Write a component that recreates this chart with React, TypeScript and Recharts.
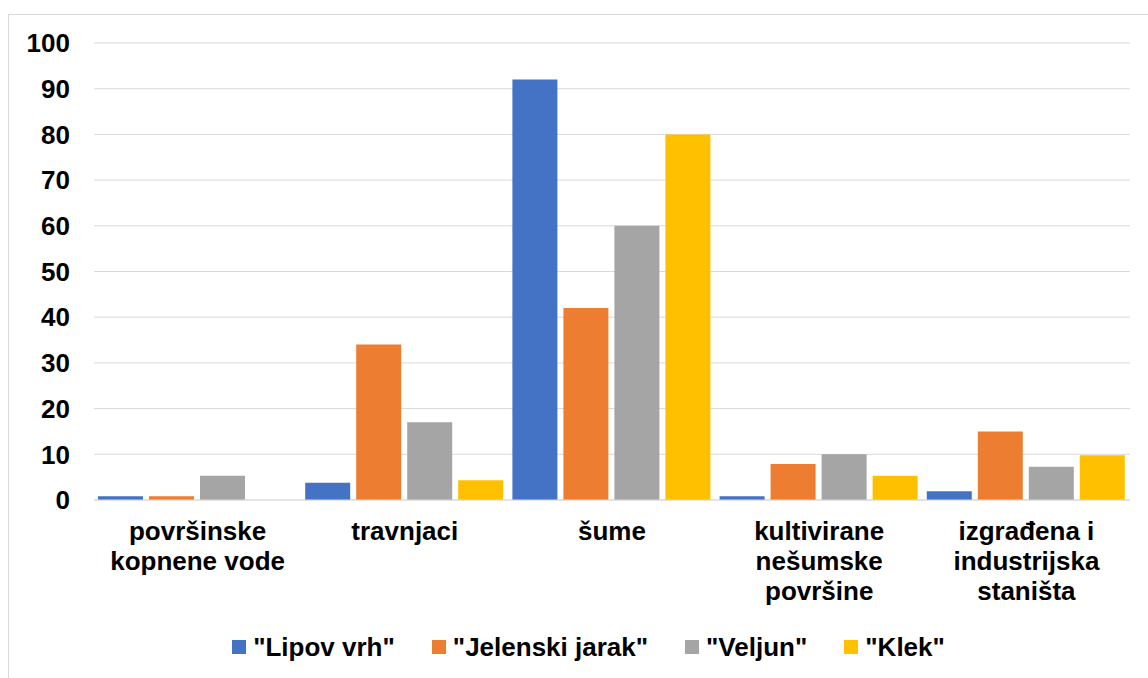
import { Bar, BarChart, CartesianGrid, Legend, XAxis, YAxis } from "recharts";

const CATEGORIES = [
  "površinske\nkopnene vode",
  "travnjaci",
  "šume",
  "kultivirane\nnešumske\npovršine",
  "izgrađena i\nindustrijska\nstaništa",
];

const LIPOV_VRH = [0.8, 3.8, 92, 0.8, 1.9];
const JELENSKI_JARAK = [0.8, 34, 42, 7.9, 15];
const VELJUN = [5.3, 17, 60, 10, 7.3];
const KLEK = [0, 4.3, 80, 5.3, 9.8];

const Y_TICKS = [0, 10, 20, 30, 40, 50, 60, 70, 80, 90, 100];

const SERIES = [
  { key: "lipov", name: '"Lipov vrh"', color: "#4472C4", values: LIPOV_VRH },
  { key: "jelenski", name: '"Jelenski jarak"', color: "#ED7D31", values: JELENSKI_JARAK },
  { key: "veljun", name: '"Veljun"', color: "#A5A5A5", values: VELJUN },
  { key: "klek", name: '"Klek"', color: "#FFC000", values: KLEK },
];

const FONT = '"Liberation Sans", Arial, sans-serif';

const chartData = CATEGORIES.map((category, i) => {
  const row: Record<string, string | number> = { category };
  SERIES.forEach((s) => {
    row[s.key] = s.values[i];
  });
  return row;
});

function CategoryTick({ x, y, payload }: any) {
  const lines = String(payload.value).split("\n");
  return (
    <text
      x={x}
      y={y}
      textAnchor="middle"
      fill="#000"
      fontSize={26}
      fontWeight="bold"
      fontFamily={FONT}
    >
      {lines.map((line, i) => (
        <tspan key={i} x={x} dy={i === 0 ? 32 : 30}>
          {line}
        </tspan>
      ))}
    </text>
  );
}

function LegendContent() {
  return (
    <div
      style={{
        height: 58,
        display: "flex",
        alignItems: "center",
        justifyContent: "center",
        gap: 37,
        paddingLeft: 38,
        paddingBottom: 4,
        boxSizing: "border-box",
        fontFamily: FONT,
        fontWeight: "bold",
        fontSize: 26,
        color: "#000",
      }}
    >
      {SERIES.map((s) => (
        <div key={s.key} style={{ display: "flex", alignItems: "center" }}>
          <span
            style={{
              width: 14,
              height: 14,
              background: s.color,
              marginRight: 7,
              display: "inline-block",
            }}
          />
          <span>{s.name}</span>
        </div>
      ))}
    </div>
  );
}

export default function App() {
  return (
    <div
      style={{
        position: "fixed",
        top: 14,
        left: 8,
        width: 1140,
        height: 664,
        borderTop: "1px solid #d9d9d9",
        borderLeft: "1px solid #d9d9d9",
        boxSizing: "border-box",
        background: "#fff",
      }}
    >
      <BarChart
        width={1139}
        height={663}
        data={chartData}
        margin={{ top: 28, right: 18, left: 0, bottom: 0 }}
        barCategoryGap={4}
        barGap={6}
      >
        <CartesianGrid vertical={false} stroke="#d9d9d9" />
        <XAxis
          dataKey="category"
          axisLine={{ stroke: "#d9d9d9" }}
          tickLine={false}
          interval={0}
          height={120}
          tick={<CategoryTick />}
        />
        <YAxis
          domain={[0, 100]}
          ticks={Y_TICKS}
          axisLine={false}
          tickLine={false}
          width={85}
          tickMargin={18}
          tick={{ fontSize: 26, fontWeight: "bold", fill: "#000", fontFamily: FONT }}
        />
        <Legend verticalAlign="bottom" content={<LegendContent />} />
        {SERIES.map((s) => (
          <Bar
            key={s.key}
            dataKey={s.key}
            name={s.name}
            fill={s.color}
            isAnimationActive={false}
          />
        ))}
      </BarChart>
    </div>
  );
}
